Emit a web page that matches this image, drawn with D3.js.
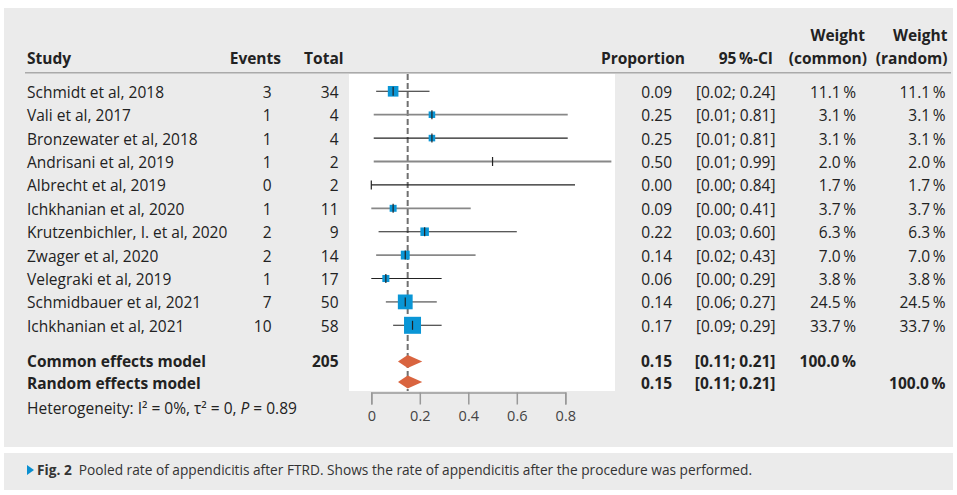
<!DOCTYPE html>
<html>
<head>
<meta charset="utf-8">
<script src="https://cdn.jsdelivr.net/npm/d3@7"></script>
<style>
  body { margin: 0; background: #fff; }
  svg { display: block; font-family: "Open Sans", "Noto Sans", sans-serif; }
</style>
</head>
<body>
<svg id="chart"></svg>
<script>
// study level data
const studies = [
  "Schmidt et al, 2018", "Vali et al, 2017", "Bronzewater et al, 2018",
  "Andrisani et al, 2019", "Albrecht et al, 2019", "Ichkhanian et al, 2020",
  "Krutzenbichler, I. et al, 2020", "Zwager et al, 2020", "Velegraki et al, 2019",
  "Schmidbauer et al, 2021", "Ichkhanian et al, 2021"
];
const events = [3, 1, 1, 1, 0, 1, 2, 2, 1, 7, 10];
const totals = [34, 4, 4, 2, 2, 11, 9, 14, 17, 50, 58];
const proportion = [0.09, 0.25, 0.25, 0.50, 0.00, 0.09, 0.22, 0.14, 0.06, 0.14, 0.17];
const ciLow = [0.02, 0.01, 0.01, 0.01, 0.00, 0.00, 0.03, 0.02, 0.00, 0.06, 0.09];
const ciHigh = [0.24, 0.81, 0.81, 0.99, 0.84, 0.41, 0.60, 0.43, 0.29, 0.27, 0.29];
const weightCommon = [11.1, 3.1, 3.1, 2.0, 1.7, 3.7, 6.3, 7.0, 3.8, 24.5, 33.7];
const weightRandom = [11.1, 3.1, 3.1, 2.0, 1.7, 3.7, 6.3, 7.0, 3.8, 24.5, 33.7];

// pooled models
const models = ["Common effects model", "Random effects model"];
const modelTotal = ["205", ""];
const modelEst = [0.15, 0.15];
const modelLow = [0.11, 0.11];
const modelHigh = [0.21, 0.21];
const modelWCommon = ["100.0\u2009%", ""];
const modelWRandom = ["", "100.0\u2009%"];

const axisTicks = [0, 0.2, 0.4, 0.6, 0.8];
const heterogeneity = "Heterogeneity: I\u00b2 = 0%, \u03c4\u00b2 = 0, ";
const caption = "Pooled rate of appendicitis after FTRD. Shows the rate of appendicitis after the procedure was performed.";

const width = 957, height = 495;
const ink = "#222";
const fs = 15.5;
const minSquareWeight = 2.5;

const svg = d3.select("#chart").attr("width", width).attr("height", height);

// background panels
svg.append("rect").attr("x", 4).attr("y", 8).attr("width", 949).attr("height", 439).attr("fill", "#ebebeb");
svg.append("rect").attr("x", 4).attr("y", 453).attr("width", 949).attr("height", 37).attr("fill", "#ebebeb");

// plot area
svg.append("rect").attr("x", 349).attr("y", 74).attr("width", 266).attr("height", 317).attr("fill", "#fff");

const x = d3.scaleLinear().domain([0, 1]).range([371.3, 613.8]);
const y = d3.scaleLinear().domain([0, studies.length - 1]).range([91.3, 325.3]);
const modelY = [361.5, 382];
const size = d3.scaleSqrt().domain([0, d3.max(weightCommon)]).range([2, 17]);
const idx = d3.range(studies.length);

// header
svg.append("line").attr("x1", 25).attr("x2", 951).attr("y1", 72.7).attr("y2", 72.7)
   .attr("stroke", "#aaa").attr("stroke-width", 1.5);

const header = [
  { t: "Study", x: 27, y: 64, a: "start" },
  { t: "Events", x: 281, y: 64, a: "end" },
  { t: "Total", x: 343.5, y: 64, a: "end" },
  { t: "Proportion", x: 685, y: 64, a: "end" },
  { t: "95\u2009%-CI", x: 773, y: 64, a: "end" },
  { t: "Weight", x: 865, y: 41, a: "end" },
  { t: "(common)", x: 867, y: 64, a: "end" },
  { t: "Weight", x: 947.5, y: 41, a: "end" },
  { t: "(random)", x: 947.5, y: 64, a: "end" }
];
svg.append("g").selectAll("text").data(header).join("text")
   .attr("x", d => d.x).attr("y", d => d.y).attr("text-anchor", d => d.a)
   .attr("font-size", fs).attr("font-weight", "bold").attr("fill", ink)
   .text(d => d.t);

// text columns for studies
const fmt = d3.format(".2f");
const columns = [
  { x: 27, a: "start", f: i => studies[i] },
  { x: 271.5, a: "end", f: i => events[i] },
  { x: 338.5, a: "end", f: i => totals[i] },
  { x: 672, a: "end", f: i => fmt(proportion[i]) },
  { x: 775.5, a: "end", f: i => `[${fmt(ciLow[i])}; ${fmt(ciHigh[i])}]` },
  { x: 856, a: "end", f: i => weightCommon[i].toFixed(1) + "\u2009%" },
  { x: 945.5, a: "end", f: i => weightRandom[i].toFixed(1) + "\u2009%" }
];
columns.forEach(c => {
  svg.append("g").selectAll("text").data(idx).join("text")
     .attr("x", c.x).attr("y", i => y(i) + 6.5).attr("text-anchor", c.a)
     .attr("font-size", fs).attr("fill", ink)
     .text(c.f);
});

// model rows
const modelCols = [
  { x: 27, a: "start", f: i => models[i] },
  { x: 338.5, a: "end", f: i => modelTotal[i] },
  { x: 672, a: "end", f: i => fmt(modelEst[i]) },
  { x: 775.5, a: "end", f: i => `[${fmt(modelLow[i])}; ${fmt(modelHigh[i])}]` },
  { x: 856, a: "end", f: i => modelWCommon[i] },
  { x: 945.5, a: "end", f: i => modelWRandom[i] }
];
const modelBase = [367, 388.5];
modelCols.forEach(c => {
  svg.append("g").selectAll("text").data([0, 1]).join("text")
     .attr("x", c.x).attr("y", i => modelBase[i]).attr("text-anchor", c.a)
     .attr("font-size", fs).attr("font-weight", "bold").attr("fill", ink)
     .text(c.f);
});

// heterogeneity line
const het = svg.append("text").attr("x", 27).attr("y", 414)
   .attr("font-size", fs).attr("fill", ink).text(heterogeneity);
het.append("tspan").attr("font-style", "italic").text("P");
het.append("tspan").text(" = 0.89");

// dashed line at pooled estimate
svg.append("line")
   .attr("x1", x(modelEst[0])).attr("x2", x(modelEst[0]))
   .attr("y1", 74).attr("y2", 391)
   .attr("stroke", "#707070").attr("stroke-width", 2).attr("stroke-dasharray", "6,3");

// confidence intervals
svg.append("g").selectAll("line").data(idx).join("line")
   .attr("x1", i => x(ciLow[i])).attr("x2", i => x(ciHigh[i]))
   .attr("y1", i => y(i)).attr("y2", i => y(i))
   .attr("stroke", i => i % 2 ? "#888" : "#222")
   .attr("stroke-width", i => i % 2 ? 1.8 : 1.1);

// weight squares
svg.append("g").selectAll("rect").data(idx.filter(i => weightCommon[i] >= minSquareWeight)).join("rect")
   .attr("x", i => x(proportion[i]) - size(weightCommon[i]) / 2)
   .attr("y", i => y(i) - size(weightCommon[i]) / 2)
   .attr("width", i => size(weightCommon[i]))
   .attr("height", i => size(weightCommon[i]))
   .attr("fill", "#0a96d6");

// estimate ticks
svg.append("g").selectAll("line").data(idx).join("line")
   .attr("x1", i => x(proportion[i])).attr("x2", i => x(proportion[i]))
   .attr("y1", i => y(i) - 4.5).attr("y2", i => y(i) + 4.5)
   .attr("stroke", "#222").attr("stroke-width", 1.2);

// diamonds
svg.append("g").selectAll("path").data([0, 1]).join("path")
   .attr("d", i => `M${x(modelLow[i])},${modelY[i]} L${x(modelEst[i])},${modelY[i] - 6.5} L${x(modelHigh[i])},${modelY[i]} L${x(modelEst[i])},${modelY[i] + 6.5}Z`)
   .attr("fill", "#d9643f");

// axis
const xa = d3.scaleLinear().domain([0, 0.8]).range([x(0), x(0.8)]);
const axis = svg.append("g").attr("transform", "translate(0,392.5)")
   .call(d3.axisBottom(xa).tickValues(axisTicks).tickSizeOuter(0).tickSize(12).tickPadding(6)
     .tickFormat(d => d === 0 ? "0" : d3.format(".1f")(d)));
axis.select(".domain").attr("stroke", "#999").attr("stroke-width", 1.5);
axis.selectAll(".tick line").attr("stroke", "#999").attr("stroke-width", 1.5);
axis.selectAll(".tick text").attr("font-size", 14.5).attr("fill", "#444")
   .attr("font-family", "\"Open Sans\", sans-serif");

// caption
svg.append("path").attr("d", "M27,465 L34,470 L27,475Z").attr("fill", "#0a8fd0");
const cap = svg.append("text").attr("x", 37).attr("y", 474.5)
   .attr("font-size", 13.7).attr("fill", "#333");
cap.append("tspan").attr("font-weight", "bold").text("Fig. 2");
cap.append("tspan").text("  " + caption).attr("xml:space", "preserve");
</script>
</body>
</html>
